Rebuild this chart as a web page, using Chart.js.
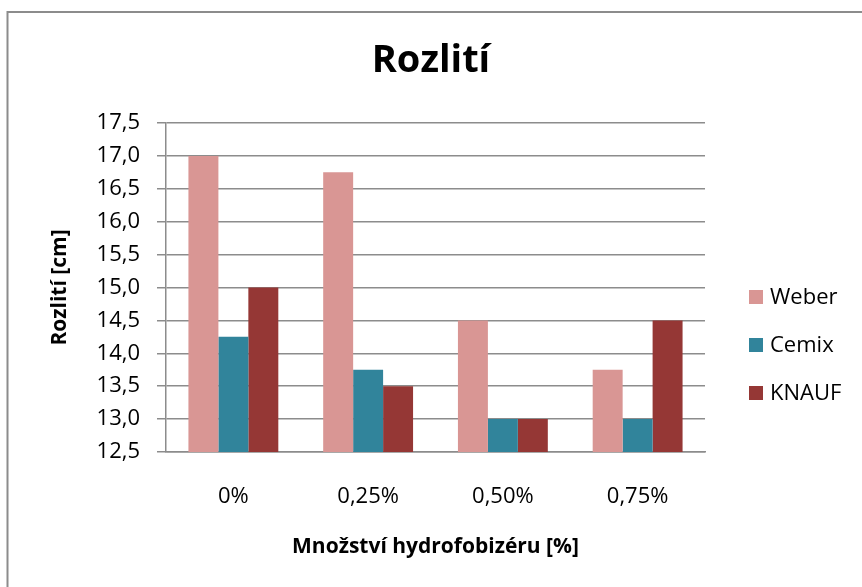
<!DOCTYPE html>
<html>
<head>
<meta charset="utf-8">
<script src="https://cdn.jsdelivr.net/npm/chart.js@4"></script>
<style>
  html, body { margin: 0; padding: 0; background: #fff; }
  #wrap { width: 862px; height: 587px; position: relative; }
</style>
</head>
<body>
<div id="wrap"><canvas id="c" width="862" height="587"></canvas></div>
<script>
const categories = ['0%', '0,25%', '0,50%', '0,75%'];
const weber = [17.0, 16.75, 14.5, 13.75];
const cemix = [14.25, 13.75, 13.0, 13.0];
const knauf = [15.0, 13.5, 13.0, 14.5];
const seriesNames = ['Weber', 'Cemix', 'KNAUF'];
const seriesColors = ['#D99694', '#31849B', '#953735'];
const yMin = 12.5, yMax = 17.5, yStep = 0.5;
const chartTitle = 'Rozlití';
const xTitle = 'Množství hydrofobizéru [%]';
const yTitle = 'Rozlití [cm]';

const FONT = "'Open Sans', 'Liberation Sans', sans-serif";

const frame = {
  id: 'frame',
  beforeDraw(chart) {
    const ctx = chart.ctx;
    ctx.save();
    ctx.fillStyle = '#fff';
    ctx.fillRect(0, 0, chart.width, chart.height);
    ctx.strokeStyle = '#8c8c8c';
    ctx.lineWidth = 2;
    ctx.beginPath();
    ctx.moveTo(7.5, chart.height + 2);
    ctx.lineTo(7.5, 12);
    ctx.lineTo(chart.width + 2, 12);
    ctx.stroke();
    ctx.restore();
  }
};

const sideLegend = {
  id: 'sideLegend',
  afterDraw(chart) {
    const ctx = chart.ctx;
    ctx.save();
    ctx.font = '22px ' + FONT;
    ctx.textBaseline = 'middle';
    ctx.textAlign = 'left';
    const x0 = 749, y0 = 297, gap = 48, box = 14;
    chart.data.datasets.forEach((ds, i) => {
      const y = y0 + i * gap;
      ctx.fillStyle = ds.backgroundColor;
      ctx.fillRect(x0, y - box / 2, box, box);
      ctx.fillStyle = '#000';
      ctx.fillText(ds.label, x0 + 21, y + 1);
    });
    ctx.restore();
  }
};

const datasetsValues = [weber, cemix, knauf];

new Chart(document.getElementById('c'), {
  type: 'bar',
  data: {
    labels: categories,
    datasets: datasetsValues.map((vals, i) => ({
      label: seriesNames[i],
      data: vals,
      backgroundColor: seriesColors[i],
      borderWidth: 0,
      categoryPercentage: 0.667,
      barPercentage: 1.0
    }))
  },
  options: {
    responsive: false,
    animation: false,
    devicePixelRatio: 1,
    layout: { padding: 0 },
    plugins: {
      legend: { display: false },
      tooltip: { enabled: false },
      title: {
        display: true,
        text: chartTitle,
        color: '#000',
        font: { family: FONT, size: 38, weight: 'bold', lineHeight: 1.2 },
        padding: { top: 38, bottom: 39.4 }
      }
    },
    scales: {
      x: {
        grid: { display: false, drawTicks: false },
        border: { display: true, color: '#8c8c8c', width: 1.5 },
        ticks: {
          color: '#000',
          font: { family: FONT, size: 22 },
          padding: 32,
          maxRotation: 0
        },
        title: {
          display: true,
          text: xTitle,
          color: '#000',
          font: { family: FONT, size: 21, weight: 'bold', lineHeight: 1.2 },
          padding: { top: 0, bottom: 27 }
        },
        afterFit(scale) { scale.height = 135; }
      },
      y: {
        min: yMin,
        max: yMax,
        grid: { color: '#8c8c8c', lineWidth: 1.5, tickLength: 9, drawTicks: true },
        border: { display: true, color: '#8c8c8c', width: 1.5 },
        ticks: {
          stepSize: yStep,
          color: '#000',
          font: { family: FONT, size: 22 },
          padding: 17,
          callback: v => Number(v).toFixed(1).replace('.', ',')
        },
        title: {
          display: true,
          text: yTitle,
          color: '#000',
          font: { family: FONT, size: 21, weight: 'bold', lineHeight: 1.2 },
          padding: { top: 47, bottom: 0 }
        },
        afterFit(scale) { scale.width = 166; }
      },
      legendSpace: {
        type: 'linear',
        position: 'right',
        min: yMin,
        max: yMax,
        grid: { display: false, drawTicks: false },
        border: { display: false },
        ticks: { display: false },
        afterFit(scale) { scale.width = 157; }
      }
    }
  },
  plugins: [frame, sideLegend]
});
</script>
</body>
</html>
